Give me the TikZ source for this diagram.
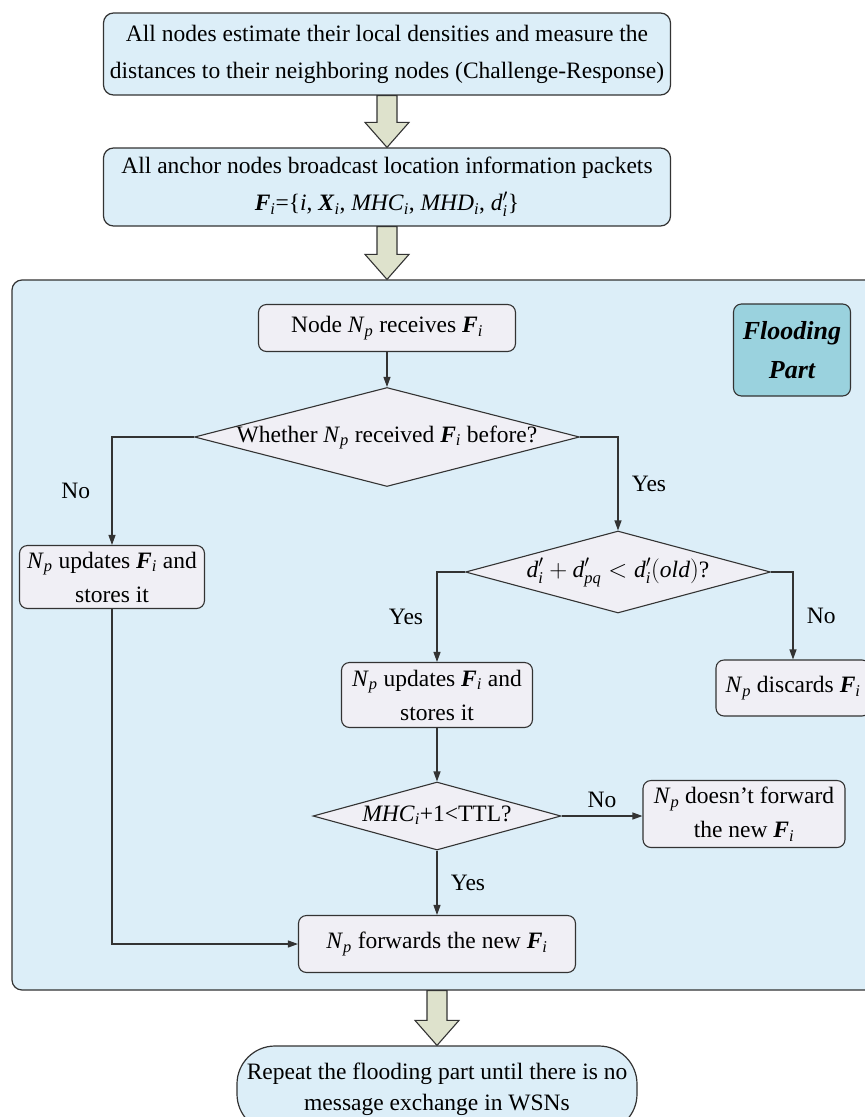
\documentclass[tikz,border=0pt]{standalone}
\usepackage{amsmath}
\usepackage{fontspec}
\setmainfont{Liberation Serif}
\usepackage{xcolor}
\usetikzlibrary{shapes,arrows,positioning,calc,arrows.meta,shapes.geometric}
\definecolor{stageFill}{HTML}{DCEEF8}
\definecolor{stepFill}{HTML}{F0EFF5}
\definecolor{tagFill}{HTML}{9AD2DE}
\definecolor{arrowFill}{HTML}{DEE2CC}
\definecolor{lineGray}{HTML}{333333}
\newcommand{\Np}{\textit{N}\textsubscript{\textit{p}}}
\newcommand{\Fi}{\textbf{\textit{F}}\textsubscript{\textit{i}}}
\newcommand{\bigArrow}[2]{%
  \draw[hollowArrow] let \p1=#1, \p2=#2 in
    (\x1-10pt,\y1) -- (\x1+10pt,\y1) -- (\x1+10pt,\y2+25pt) -- (\x1+22pt,\y2+25pt)
    -- (\x1,\y2) -- (\x1-22pt,\y2+25pt) -- (\x1-10pt,\y2+25pt) -- cycle;}
\tikzset{
  stageBox/.style={
    rectangle,
    rounded corners=10pt,
    draw=lineGray,
    line width=1.2pt,
    fill=stageFill,
    align=center,
    font=\fontsize{23.5}{37}\selectfont
  },
  floodRegion/.style={
    rectangle,
    rounded corners=10pt,
    draw=lineGray,
    line width=1.2pt,
    fill=stageFill
  },
  stepBox/.style={
    rectangle,
    rounded corners=8pt,
    draw=lineGray,
    line width=1.1pt,
    fill=stepFill,
    align=center,
    font=\fontsize{23.5}{34}\selectfont
  },
  decisionBox/.style={
    diamond,
    draw=lineGray,
    line width=1.1pt,
    fill=stepFill,
    inner sep=0pt,
    text height=12pt,
    text depth=2pt,
    align=center,
    font=\fontsize{23.5}{26}\selectfont
  },
  tagBox/.style={
    rectangle,
    rounded corners=8pt,
    draw=lineGray,
    line width=1.1pt,
    fill=tagFill,
    align=center,
    font=\fontsize{26}{39}\selectfont\bfseries\itshape
  },
  arrowLine/.style={
    -{Triangle[length=10pt,width=7pt]},
    draw=lineGray,
    line width=1.1pt
  },
  hollowArrow/.style={
    draw=lineGray,
    fill=arrowFill,
    line width=1.1pt,
    line join=miter
  },
  branchLabel/.style={
    font=\fontsize{23.5}{26}\selectfont
  }
}

\begin{document}
\begin{tikzpicture}[x=1pt,y=-1pt]
  \clip (0,0) rectangle (865,1117);

  % stages outside the flooding part
  \node[stageBox, minimum width=567pt, minimum height=82pt] (estimate) at (387,54)
    {All nodes estimate their local densities and measure the\\distances to their neighboring nodes (Challenge-Response)};
  \node[stageBox, minimum width=567pt, minimum height=78pt] (broadcast) at (387,187)
    {All anchor nodes broadcast location information packets\\
     \Fi=\{\textit{i}, \textbf{\textit{X}}\textsubscript{\textit{i}}, \textit{MHC}\textsubscript{\textit{i}}, \textit{MHD}\textsubscript{\textit{i}}, $\textit{d}'_{\textit{i}}$\}};
  \node[floodRegion, minimum width=870pt, minimum height=710pt] (flood) at (447,635) {};
  \node[tagBox, minimum width=117pt, minimum height=92pt] (tag) at (792,350) {Flooding\\Part};

  % flooding part
  \node[stepBox, minimum width=257pt, minimum height=47pt] (receive) at (387,328) {Node \Np{} receives \Fi};
  \node[decisionBox, aspect=3.9, minimum width=385pt, minimum height=99pt] (received) at (387,437)
    {Whether \Np{} received \Fi{} before?};
  \node[stepBox, minimum width=185pt, minimum height=63pt] (firstUpdate) at (112,577)
    {\Np{} updates \Fi{} and\\stores it};
  \node[decisionBox, aspect=3.7, minimum width=305pt, minimum height=82pt] (shorter) at (618,572)
    {$\textit{d}'_{\textit{i}} + \textit{d}'_{\textit{pq}} < \textit{d}'_{\textit{i}}(\textit{old})$?};
  \node[stepBox, minimum width=191pt, minimum height=65pt] (update) at (437,695)
    {\Np{} updates \Fi{} and\\stores it};
  \node[stepBox, minimum width=154pt, minimum height=56pt] (discard) at (793,688) {\Np{} discards \Fi};
  \node[decisionBox, aspect=3.65, minimum width=248pt, minimum height=68pt] (ttl) at (437,816)
    {\textit{MHC}\textsubscript{\textit{i}}+1<TTL?};
  \node[stepBox, minimum width=202pt, minimum height=67pt] (noForward) at (744,814)
    {\Np{} doesn't forward\\the new \Fi};
  \node[stepBox, minimum width=277pt, minimum height=57pt] (forward) at (437,944)
    {\Np{} forwards the new \Fi};

  % last stage
  \node[stageBox, rounded corners=38pt, minimum width=400pt, minimum height=86pt,
        font=\fontsize{23.5}{31}\selectfont] (repeat) at (437,1089)
    {Repeat the flooding part until there is no\\message exchange in WSNs};

  % connectors
  \bigArrow{(estimate.south)}{(broadcast.north)}
  \bigArrow{(broadcast.south)}{(broadcast.south |- flood.north)}
  \bigArrow{(forward.south |- flood.south)}{(repeat.north)}

  \draw[arrowLine] (receive) -- (received);
  \draw[arrowLine] (received.west) -| node[branchLabel, pos=0.75, left=18pt]{No} (firstUpdate);
  \draw[arrowLine] (received.east) -| node[branchLabel, pos=0.75, right=10pt]{Yes} (shorter);
  \draw[arrowLine] (shorter.west) -| node[branchLabel, pos=0.75, left=10pt]{Yes} (update);
  \draw[arrowLine] (shorter.east) -| node[branchLabel, pos=0.75, right=10pt]{No} (discard);
  \draw[arrowLine] (update) -- (ttl);
  \draw[arrowLine] (ttl.east) -- node[branchLabel, above=4pt]{No} (ttl.east -| noForward.west);
  \draw[arrowLine] (ttl) -- node[branchLabel, right=10pt]{Yes} (forward);
  \draw[arrowLine] (firstUpdate) |- (forward);
\end{tikzpicture}
\end{document}
